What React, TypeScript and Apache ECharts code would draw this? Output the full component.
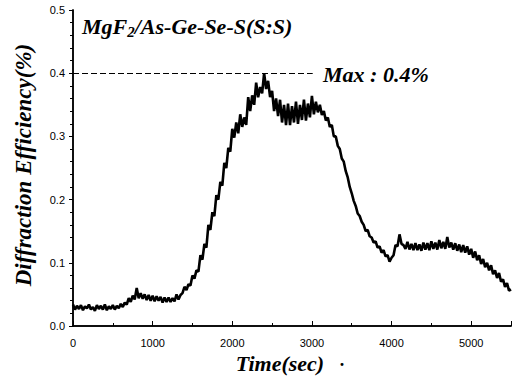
import React, { useEffect, useRef } from "react";
import * as echarts from "echarts";

const timeStep = 25;
const efficiency = [
  0.034, 0.026, 0.032, 0.027, 0.033, 0.025, 0.031, 0.028,
  0.034, 0.026, 0.030, 0.024, 0.033, 0.027, 0.032, 0.026,
  0.034, 0.025, 0.031, 0.027, 0.033, 0.026, 0.032, 0.028,
  0.035, 0.030, 0.037, 0.034, 0.044, 0.038, 0.048, 0.042,
  0.060, 0.044, 0.052, 0.043, 0.050, 0.041, 0.049, 0.040,
  0.048, 0.039, 0.047, 0.040, 0.046, 0.037, 0.045, 0.038,
  0.045, 0.038, 0.044, 0.039, 0.050, 0.042, 0.049, 0.052,
  0.062, 0.057, 0.066, 0.064, 0.080, 0.075, 0.088, 0.086,
  0.112, 0.105, 0.130, 0.124, 0.160, 0.152, 0.180, 0.174,
  0.207, 0.200, 0.228, 0.222, 0.258, 0.250, 0.282, 0.276,
  0.312, 0.298, 0.322, 0.305, 0.335, 0.315, 0.330, 0.318,
  0.362, 0.340, 0.365, 0.350, 0.385, 0.362, 0.378, 0.368,
  0.400, 0.375, 0.388, 0.362, 0.372, 0.340, 0.360, 0.332,
  0.358, 0.322, 0.350, 0.318, 0.352, 0.318, 0.348, 0.322,
  0.355, 0.320, 0.350, 0.326, 0.358, 0.325, 0.352, 0.330,
  0.364, 0.335, 0.355, 0.338, 0.350, 0.334, 0.340, 0.325,
  0.330, 0.315, 0.318, 0.300, 0.300, 0.285, 0.280, 0.265,
  0.260, 0.245, 0.235, 0.220, 0.210, 0.198, 0.190, 0.178,
  0.174, 0.165, 0.160, 0.150, 0.152, 0.142, 0.140, 0.132,
  0.134, 0.124, 0.126, 0.116, 0.120, 0.110, 0.112, 0.102,
  0.108, 0.112, 0.128, 0.126, 0.145, 0.130, 0.128, 0.122,
  0.133, 0.121, 0.130, 0.120, 0.131, 0.120, 0.129, 0.119,
  0.132, 0.121, 0.131, 0.120, 0.134, 0.122, 0.132, 0.121,
  0.136, 0.123, 0.133, 0.122, 0.141, 0.124, 0.132, 0.121,
  0.131, 0.119, 0.129, 0.117, 0.128, 0.116, 0.126, 0.113,
  0.122, 0.108, 0.118, 0.104, 0.112, 0.098, 0.106, 0.093,
  0.100, 0.088, 0.096, 0.082, 0.088, 0.076, 0.084, 0.070,
  0.074, 0.062, 0.068, 0.056, 0.058,
];
const maxLevel = 0.4;
const maxLineEnd = 3010;
const xMax = 5500;
const yMax = 0.5;
const titleMain = "MgF";
const titleSub = "2";
const titleRest = "/As-Ge-Se-S(S:S)";
const maxLabel = "Max : 0.4%";
const xName = "Time(sec)";
const yName = "Diffraction Efficiency(%)";

const serif = "'Liberation Serif', 'DejaVu Serif', serif";
const sans = "'Liberation Sans', Arial, sans-serif";

export default function App() {
  const ref = useRef<HTMLDivElement>(null);
  useEffect(() => {
    if (!ref.current) return;
    const chart = echarts.init(ref.current, null, { renderer: "svg" });
    const data = efficiency.map((v, i) => [i * timeStep, v]);
    const tickStyle = { color: "#000", width: 1 };
    const boldItalic = {
      fontFamily: serif,
      fontWeight: "bold",
      fontStyle: "italic",
      fill: "#000",
    };
    chart.setOption({
      animation: false,
      backgroundColor: "#fff",
      grid: { left: 73, right: 4, top: 10, bottom: 53 },
      xAxis: [
        {
          type: "value",
          min: 0,
          max: xMax,
          interval: 1000,
          position: "bottom",
          axisLine: { show: true, lineStyle: { color: "#000", width: 1.5 } },
          axisTick: { show: true, inside: true, length: 5, lineStyle: tickStyle },
          minorTick: { show: true, splitNumber: 2, length: 3, lineStyle: tickStyle },
          splitLine: { show: false },
          axisLabel: {
            color: "#000",
            fontFamily: sans,
            fontSize: 11,
            margin: 11,
            showMaxLabel: false,
            formatter: (v: number) => String(v),
          },
        },
        {
          type: "value",
          min: 0,
          max: xMax,
          interval: 1000,
          position: "top",
          axisLine: { show: true, lineStyle: { color: "#000", width: 1.5 } },
          axisTick: { show: false },
          axisLabel: { show: false },
          splitLine: { show: false },
        },
      ],
      yAxis: [
        {
          type: "value",
          min: 0,
          max: yMax,
          interval: 0.1,
          position: "left",
          axisLine: { show: true, lineStyle: { color: "#000", width: 1.5 } },
          axisTick: { show: true, inside: false, length: 4, lineStyle: tickStyle },
          minorTick: { show: true, splitNumber: 5, length: 3, lineStyle: tickStyle },
          splitLine: { show: false },
          axisLabel: {
            color: "#000",
            fontFamily: sans,
            fontSize: 11,
            margin: 8,
            formatter: (v: number) => v.toFixed(1),
          },
        },
        {
          type: "value",
          min: 0,
          max: yMax,
          interval: 0.1,
          position: "right",
          axisLine: { show: true, lineStyle: { color: "#000", width: 1.5 } },
          axisTick: { show: true, inside: true, length: 4, lineStyle: tickStyle },
          minorTick: { show: true, splitNumber: 5, length: 3, lineStyle: tickStyle },
          axisLabel: { show: false },
          splitLine: { show: false },
        },
      ],
      series: [
        {
          type: "line",
          data,
          xAxisIndex: 0,
          yAxisIndex: 0,
          showSymbol: false,
          symbol: "none",
          lineStyle: { color: "#000", width: 2.6 },
          markLine: {
            silent: true,
            symbol: ["none", "none"],
            label: { show: false },
            lineStyle: { color: "#000", width: 1, type: [6, 3] },
            data: [
              [
                { coord: [0, maxLevel] },
                { coord: [maxLineEnd, maxLevel] },
              ],
            ],
          },
        },
      ],
      graphic: [
        {
          type: "text",
          left: 82,
          top: 15,
          style: {
            text: `{a|${titleMain}}{s|${titleSub}}{a|${titleRest}}`,
            rich: {
              a: { ...boldItalic, fontSize: 22, lineHeight: 26 },
              s: {
                ...boldItalic,
                fontSize: 15,
                lineHeight: 15,
                verticalAlign: "bottom",
              },
            },
          },
        },
        {
          type: "text",
          x: 323,
          y: 74,
          style: {
            ...boldItalic,
            text: maxLabel,
            fontSize: 22,
            textVerticalAlign: "middle",
          },
        },
        {
          type: "text",
          x: 280,
          y: 363,
          style: {
            ...boldItalic,
            text: xName,
            fontSize: 22,
            textAlign: "center",
            textVerticalAlign: "middle",
          },
        },
        {
          type: "text",
          x: 342,
          y: 365,
          style: {
            text: "·",
            fontFamily: serif,
            fontSize: 18,
            fontWeight: "bold",
            fill: "#000",
            textAlign: "center",
            textVerticalAlign: "middle",
          },
        },
        {
          type: "text",
          x: 23,
          y: 165,
          rotation: Math.PI / 2,
          style: {
            ...boldItalic,
            text: yName,
            fontSize: 23,
            textAlign: "center",
            textVerticalAlign: "middle",
          },
        },
      ],
    });
    return () => chart.dispose();
  }, []);
  return (
    <div
      ref={ref}
      style={{ position: "fixed", left: 0, top: 0, width: 515, height: 379 }}
    />
  );
}
